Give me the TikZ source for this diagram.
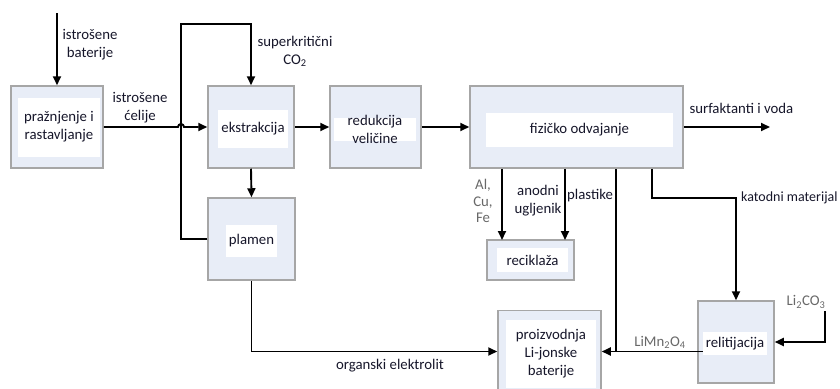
\documentclass[tikz,border=0pt]{standalone}
\usepackage{fontspec}
\setmainfont{Carlito}
\usepackage{xcolor}
\usetikzlibrary{arrows.meta,positioning}
\definecolor{boxfill}{HTML}{E8EDF7}
\definecolor{boxline}{HTML}{A6A6A6}
\definecolor{ink}{HTML}{16162A}
\definecolor{grayink}{HTML}{686868}

\begin{document}
\begin{tikzpicture}[x=1pt,y=-1pt,
	  every node/.style={align=center,text=ink,font=\fontsize{14.8}{18}\selectfont},
	  process/.style={draw=boxline,line width=1.5pt,fill=boxfill,inner sep=0pt},
	  boxtext/.style={fill=white,draw=none,inner sep=0pt},
	  faint/.style={text=grayink},
	  to/.style={->,>={Triangle[length=9pt,width=8pt]},line width=1.9pt,draw=black},
	  wire/.style={line width=1.9pt,draw=black}]

	  \useasboundingbox (0,0) rectangle (840,388);

	  % process boxes with their white text fields
	  \node[process,minimum width=92,minimum height=82] (praznjenje) at (57,127) {};
	  \node[boxtext,minimum width=82,minimum height=59] (praznjenjein) at (59,127) {pražnjenje i\\rastavljanje};
	  \node[process,minimum width=86,minimum height=82] (ekstrakcija) at (251,127) {};
	  \node[boxtext,minimum width=70,minimum height=38] (ekstrakcijain) at (253,129) {ekstrakcija};
	  \node[process,minimum width=91,minimum height=82] (redukcija) at (375.5,127) {};
	  \node[boxtext,minimum width=82,inner ysep=-3pt] (redukcijain) at (375,129.5) {redukcija\\veličine};
	  \node[process,minimum width=213,minimum height=82] (fizicko) at (576.5,127) {};
	  \node[boxtext,minimum width=187,minimum height=34] (fizickoin) at (579.5,130) {fizičko odvajanje};
	  \node[process,minimum width=87,minimum height=82] (plamen) at (251.5,239) {};
	  \node[boxtext,minimum width=51,minimum height=32] (plamenin) at (251.5,241) {plamen};
	  \node[process,minimum width=87,minimum height=40] (reciklaza) at (530.5,260) {};
	  \node[boxtext,minimum width=71,minimum height=24] (reciklazain) at (532.5,260) {reciklaža};
	  \node[process,minimum width=103,minimum height=82] (proizvodnja) at (549.5,351.5) {};
	  \node[boxtext,minimum width=90,minimum height=68] (proizvodnjain) at (551,354) {proizvodnja\\Li-jonske\\baterije};
	  \node[process,minimum width=76,minimum height=82] (relitijacija) at (736,342) {};
	  \node[boxtext,minimum width=64,minimum height=23] (relitijacijain) at (735,343.5) {relitijacija};

	  % flow labels
	  \node (baterijelbl) at (90,45) {istrošene\\baterije};
	  \node (celijelbl) at (140,108) {istrošene\\ćelije};
	  \node (co2lbl) at (295,51) {superkritični\\CO\textsubscript{2}};
	  \node[anchor=west] (vodalbl) at (686,108) {surfaktanti i voda};
	  \node[faint,font=\fontsize{14.8}{16.5}\selectfont] (metalilbl) at (483,201) {Al,\\Cu,\\Fe};
	  \node (ugljeniklbl) at (538,201) {anodni\\ugljenik};
	  \node (plastikelbl) at (590,196) {plastike};
	  \node[anchor=west,inner xsep=0pt,font=\fontsize{14}{18}\selectfont] (katodalbl) at (741,198) {katodni materijal};
	  \node[faint] (li2co3lbl) at (806,302) {Li\textsubscript{2}CO\textsubscript{3}};
	  \node[faint] (limnlbl) at (660,342) {LiMn\textsubscript{2}O\textsubscript{4}};
	  \node (elektrolitlbl) at (390,366) {organski elektrolit};

	  % free ends and bends
	  \coordinate (ulaz) at (57,13);
	  \coordinate (skok) at (178,127);
	  \coordinate (petlja) at (181,24);
	  \coordinate (izlaz) at (770,127);
	  \coordinate (metali) at (502,240);
	  \coordinate (ugljen) at (565,240);
	  \coordinate (spoj) at (616,351.5);
	  \coordinate (katoda) at (652,198);
	  \coordinate (litij) at (825,311);

	  \draw[to] (ulaz) -- (praznjenje.north);
	  \draw[to] (plamen.west) -| (petlja) -| (ekstrakcija.north);
	  \draw[to] (praznjenje.east) -- (skok) arc[start angle=180,end angle=0,radius=3pt] -- (ekstrakcija.west);
	  \draw[to] (ekstrakcija.east) -- (redukcija.west);
	  \draw[to] (redukcija.east) -- (fizicko.west);
	  \draw[to] (fizicko.east) -- (izlaz);
	  \draw[to] (ekstrakcija.south) -- (plamen.north);
	  \draw[to] (plamen.south) |- (proizvodnja.west);

	  \draw[to] (fizicko.south -| metali) -- (metali);
	  \draw[to] (fizicko.south -| ugljen) -- (ugljen);
	  \draw[wire] (fizicko.south -| spoj) -- (spoj);
	  \draw[to] (fizicko.south -| katoda) -- (katoda) -| (relitijacija.north);
	  \draw[to] (litij) |- (relitijacija.east);
	  \draw[to] (relitijacijain.west |- proizvodnja.east) -- (proizvodnja.east);

\end{tikzpicture}
\end{document}
